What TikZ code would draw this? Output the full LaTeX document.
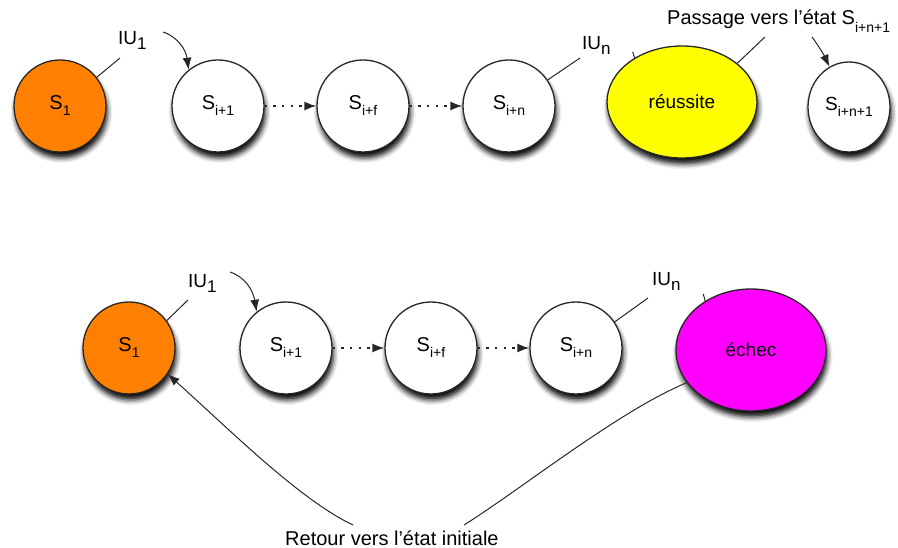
\documentclass[tikz,border=0pt]{standalone}
\usepackage{fontspec}
\setmainfont{Liberation Sans}
\usetikzlibrary{shapes.geometric,arrows.meta,shadows.blur}
\definecolor{orangeS}{RGB}{255,128,0}
\definecolor{yellowS}{RGB}{255,255,0}
\definecolor{magentaS}{RGB}{255,0,255}
\newcommand\nsub[1]{\raisebox{-6pt}{\fontsize{14}{14}\selectfont #1}}
\newcommand\iusub[1]{\raisebox{-5pt}{\fontsize{17}{17}\selectfont #1}}
\newcommand\psub[1]{\raisebox{-8pt}{\fontsize{14}{14}\selectfont #1}}
\begin{document}
\begin{tikzpicture}[x=1pt,y=-1pt,
  shad/.style={blur shadow={shadow xshift=1.5pt,shadow yshift=-6pt,shadow blur radius=5pt,shadow opacity=95}},
  st/.style={circle,draw=black!85,line width=1.3pt,fill=white,minimum size=92pt,inner sep=0pt,
     font=\fontsize{20}{20}\selectfont,shad},
  el/.style={ellipse,draw=black!85,line width=1.3pt,inner sep=0pt,
     font=\fontsize{19}{19}\selectfont,shad},
  lbl/.style={inner sep=0pt,font=\fontsize{19}{19}\selectfont},
  big/.style={inner sep=0pt,font=\fontsize{20}{20}\selectfont},
  conn/.style={draw=black!85,line width=1pt},
  arr/.style={conn,-{Latex[length=12pt,width=9pt]}},
  dots/.style={draw=black!85,line width=1.6pt,dash pattern=on 2.2pt off 6.5pt,-{Latex[length=12pt,width=9pt]}}]
\useasboundingbox (0,0) rectangle (898,548);

% ---------- top row ----------
\node[st,fill=orangeS] (s1) at (60,106) {S\nsub{1}};
\node[st] (si1) at (218,106) {S\nsub{i+1}};
\node[st] (sif) at (363,106) {S\nsub{i+f}};
\node[st] (sin) at (509,106) {S\nsub{i+n}};
\node[el,fill=yellowS,minimum width=150pt,minimum height=112pt] (reu) at (682,102) {réussite};
\node[el,fill=white,minimum width=82pt,minimum height=90pt] (snn) at (849,107) {S\nsub{i+n+1}};

\node[lbl,anchor=base west] (iu1) at (118,45) {IU\iusub{1}};
\node[lbl,anchor=base west] (iun) at (582,50) {IU\iusub{n}};
\node[big,anchor=base west] (pass) at (667,25) {Passage vers l'état S\psub{i+n+1}};

\coordinate (iu1e) at (120,58);
\coordinate (iu1a) at (163,32);
\coordinate (iune) at (580,58);
\coordinate (passl) at (765,37);
\coordinate (passa) at (812,37);

\draw[conn] (s1.38) -- (iu1e);
\draw[arr] (iu1a) .. controls (178,37) and (186,50) .. (si1.129);
\draw[dots] (si1) -- (sif);
\draw[dots] (sif) -- (sin);
\draw[conn] (sin.34) -- (iune);
\draw[conn] (reu.137) -- ++(-2,-6);
\draw[conn] (passl) -- (reu.35);
\draw[arr] (passa) .. controls (818,45) and (824,55) .. (snn.116);

% ---------- bottom row ----------
\node[st,fill=orangeS] (s1b) at (129,348) {S\nsub{1}};
\node[st] (si1b) at (286,348) {S\nsub{i+1}};
\node[st] (sifb) at (431,348) {S\nsub{i+f}};
\node[st] (sinb) at (576,348) {S\nsub{i+n}};
\node[el,fill=magentaS,minimum width=150pt,minimum height=122pt] (ech) at (751,350) {échec};

\node[lbl,anchor=base west] (iu1b) at (188,288) {IU\iusub{1}};
\node[lbl,anchor=base west] (iunb) at (652,286) {IU\iusub{n}};
\node[big,anchor=base west] (ret) at (285,545) {Retour vers l'état initiale};

\coordinate (iu1be) at (188,300);
\coordinate (iu1ba) at (230,272);
\coordinate (iunbe) at (648,298);
\coordinate (retr) at (464,525);
\coordinate (retl) at (353,525);

\draw[conn] (s1b.36) -- (iu1be);
\draw[arr] (iu1ba) .. controls (245,277) and (253,290) .. (si1b.129);
\draw[dots] (si1b) -- (sifb);
\draw[dots] (sifb) -- (sinb);
\draw[conn] (sinb.34) -- (iunbe);
\draw[conn] (ech.133) -- ++(-2,-7);
\draw[conn] (ech.207) .. controls (620,410) and (520,490) .. (retr);
\draw[arr] (retl) .. controls (300,500) and (230,430) .. (s1b.-34);
\end{tikzpicture}
\end{document}
